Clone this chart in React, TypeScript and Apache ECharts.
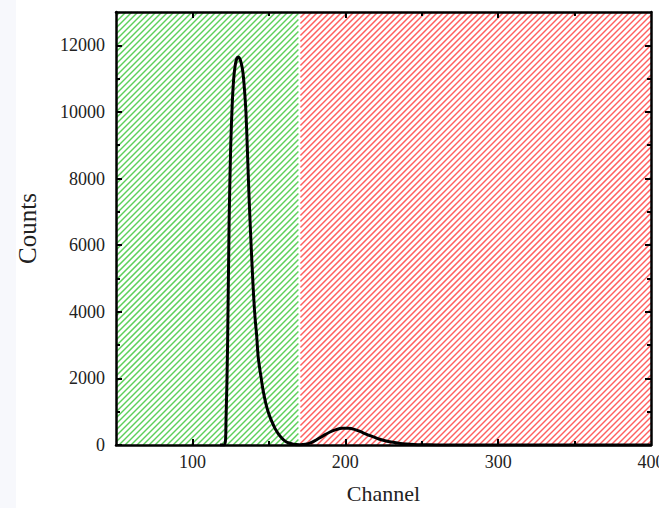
import React, { useEffect, useRef } from "react";
import * as echarts from "echarts";

const channels = [118, 121, 122, 123, 124, 125, 126, 127, 128, 129, 130, 131, 132, 133, 134, 135, 136, 137, 138, 139, 140, 141, 142, 143, 144, 145, 146, 148, 150, 152, 154, 156, 158, 160, 163, 166, 170, 174, 178, 182, 186, 190, 194, 198, 202, 206, 210, 214, 218, 222, 226, 230, 235, 240, 245, 250, 260, 280, 320, 360, 400];
const counts = [0, 0, 800, 3000, 6700, 8900, 10200, 11000, 11400, 11600, 11650, 11600, 11450, 11200, 10700, 10000, 8800, 7500, 6400, 5400, 4500, 3800, 3300, 2650, 2300, 2000, 1700, 1250, 930, 700, 500, 350, 230, 140, 60, 25, 10, 20, 80, 180, 290, 390, 460, 500, 500, 470, 400, 320, 250, 180, 130, 90, 55, 30, 15, 8, 3, 0, 0, 0, 0];

const regionStarts = [50, 170];
const regionEnds = [170, 400];
const regionColors = ["#5dd05a", "#ff5f5f"];

const xMin = 50;
const xMax = 400;
const yMin = 0;
const yMax = 13000;
const xMajor = [100, 200, 300];
const xLabels = [100, 200, 300, 400];
const xMinor = [150, 250, 350];
const yMajor = [0, 2000, 4000, 6000, 8000, 10000, 12000];
const yMinor = [1000, 3000, 5000, 7000, 9000, 11000];

const FONT = "'Liberation Serif', 'Times New Roman', serif";

export default function App() {
  const ref = useRef<HTMLDivElement>(null);
  useEffect(() => {
    if (!ref.current) return;
    const chart = echarts.init(ref.current, null, { renderer: "svg" });
    const lineStyle = { color: "#000", width: 2.5 };
    const fmt = (v: number) => String(v);
    const mkX = (position: string, ticks: number[], len: number, showLine: boolean, labels: number[] | null, name?: string) => ({
      type: "value",
      position,
      min: xMin,
      max: xMax,
      z: 5,
      name: name || "",
      nameLocation: "middle",
      nameGap: 37,
      nameTextStyle: { fontFamily: FONT, fontSize: 22, color: "#222" },
      axisLine: { show: showLine, onZero: false, lineStyle },
      axisTick: { show: true, inside: true, length: len, customValues: ticks, lineStyle: { color: "#000", width: 2 } },
      axisLabel: labels
        ? { show: true, customValues: labels, formatter: fmt, margin: 8, fontFamily: FONT, fontSize: 18, color: "#222" }
        : { show: false },
      splitLine: { show: false },
    });
    const mkY = (position: string, ticks: number[], len: number, showLine: boolean, labels: number[] | null, name?: string) => ({
      type: "value",
      position,
      min: yMin,
      max: yMax,
      z: 5,
      name: name || "",
      nameLocation: "middle",
      nameGap: 76,
      nameTextStyle: { fontFamily: FONT, fontSize: 25, color: "#222" },
      axisLine: { show: showLine, onZero: false, lineStyle },
      axisTick: { show: true, inside: true, length: len, customValues: ticks, lineStyle: { color: "#000", width: 2 } },
      axisLabel: labels
        ? { show: true, customValues: labels, formatter: fmt, margin: 11, fontFamily: FONT, fontSize: 18, color: "#222" }
        : { show: false },
      splitLine: { show: false },
    });

    const hatchData = regionStarts.map((s, i) => [s, regionEnds[i], yMin, yMax, i]);

    chart.setOption({
      animation: false,
      backgroundColor: "#fff",
      graphic: [
        { type: "rect", left: 0, top: 0, shape: { x: 0, y: 0, width: 16, height: 508 }, style: { fill: "#f7f8fc" }, z: -10 },
      ],
      grid: { left: 116, right: 8, top: 12, bottom: 63, containLabel: false, outerBoundsMode: "none" },
      xAxis: [
        mkX("bottom", xMajor, 6, true, xLabels, "Channel"),
        mkX("bottom", xMinor, 4, false, null),
        mkX("top", xMajor, 6, true, null),
        mkX("top", xMinor, 4, false, null),
      ],
      yAxis: [
        mkY("left", yMajor, 6, true, yMajor, "Counts"),
        mkY("left", yMinor, 4, false, null),
        mkY("right", yMajor, 6, true, null),
        mkY("right", yMinor, 4, false, null),
      ],
      series: [
        {
          type: "custom",
          xAxisIndex: 0,
          yAxisIndex: 0,
          z: 1,
          silent: true,
          encode: { x: [0, 1], y: [2, 3] },
          data: hatchData,
          renderItem: (params: any, api: any) => {
            const i = api.value(4);
            const pA = api.coord([api.value(0), api.value(3)]);
            const pB = api.coord([api.value(1), api.value(2)]);
            let x0 = pA[0];
            let x1 = pB[0];
            const y0 = pA[1];
            const y1 = pB[1];
            if (i > 0) x0 += 1;
            if (i < regionStarts.length - 1) x1 -= 1;
            const step = 6;
            const children: any[] = [];
            const cStart = Math.ceil((x0 + y0) / step) * step;
            for (let c = cStart; c <= x1 + y1; c += step) {
              const xa = Math.max(x0, c - y1);
              const xb = Math.min(x1, c - y0);
              if (xb <= xa) continue;
              children.push({
                type: "line",
                shape: { x1: xa, y1: c - xa, x2: xb, y2: c - xb },
                style: { stroke: regionColors[i], lineWidth: 1.5 },
              });
            }
            return { type: "group", children };
          },
        },
        {
          type: "line",
          xAxisIndex: 0,
          yAxisIndex: 0,
          z: 3,
          data: channels.map((c, i) => [c, counts[i]]),
          showSymbol: false,
          smooth: 0.3,
          lineStyle: { color: "#000", width: 3 },
        },
      ],
    });
    return () => chart.dispose();
  }, []);
  return <div ref={ref} style={{ position: "absolute", left: 0, top: 0, width: 659, height: 508 }} />;
}
